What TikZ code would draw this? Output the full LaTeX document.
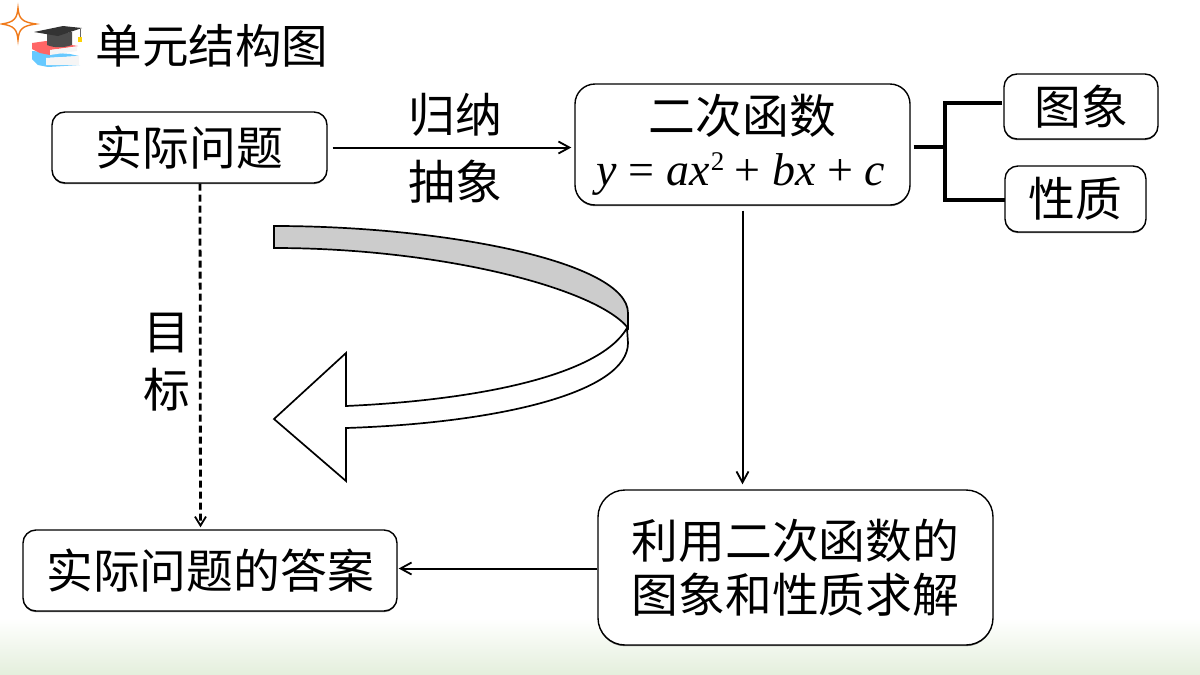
\documentclass[tikz,border=0pt]{standalone}
\usepackage{fontspec}
\setmainfont{Noto Sans CJK SC}
\newfontfamily\mathserif{Liberation Serif}
\usetikzlibrary{arrows.meta,shadows}
\definecolor{bandgray}{HTML}{CCCCCC}
\definecolor{footgreen}{HTML}{E4EFDC}
\definecolor{starorange}{HTML}{F07A1A}
\newcommand\upT[1]{\raisebox{2pt}{#1}}
\tikzset{
  x=1pt,y=-1pt,
  boxbase/.style={draw=black,line width=1.4pt,fill=white,inner sep=0pt,align=center,
    font=\fontsize{46.8}{54}\selectfont,
    drop shadow={shadow xshift=0pt,shadow yshift=-1.2pt,fill=black!55,opacity=1}},
  roundbox/.style={boxbase,rounded corners=13pt},
  bigbox/.style={boxbase,rounded corners=27pt},
  label/.style={inner sep=0pt,font=\fontsize{46.8}{54}\selectfont},
  flow/.style={line width=2pt,-{Straight Barb[length=11pt,width=12pt,line width=1.8pt]}},
  goalflow/.style={line width=2.8pt,dash pattern=on 7pt off 4pt,-{Straight Barb[length=9pt,width=11pt,line width=1.8pt]}},
  bracket/.style={line width=4pt,line cap=butt},
  bandline/.style={draw=black,line width=1.7pt,line join=miter}
}
\begin{document}
\begin{tikzpicture}
\useasboundingbox (0,0) rectangle (1200,675);
\shade[top color=white,bottom color=footgreen] (0,618) rectangle (1200,675);

% title icon
\draw[starorange,line width=1.4pt,fill=white,line join=miter] (18,8) .. controls (19,19) and (22,22) .. (36,24) .. controls (22,26) and (19,29) .. (18,40) .. controls (17,29) and (14,26) .. (2,24) .. controls (14,22) and (17,19) .. (18,8) -- cycle;
\fill[blue!35!cyan!60] (32,51) -- (70,54) -- (79,56) -- (46,58) -- (46,65) -- (80,65) -- (48,67) -- (38,65) -- (32,59) -- cycle;
\fill[white!92!gray] (46,58) -- (79,56) -- (79,65) -- (46,65) -- cycle;
\fill[red!60!white] (32,43) -- (46,41) -- (78,46) -- (50,50) -- (50,55) -- (40,53) -- (32,49) -- cycle;
\fill[white!92!gray] (50,50) -- (77,47) -- (77,51) -- (50,55) -- cycle;
\fill[black!70] (47,34) -- (72,32) -- (72,45) .. controls (64,48) and (54,48) .. (47,45) -- cycle;
\fill[black!80] (34,32) -- (63,26) -- (82,28) -- (58,36) -- cycle;
\draw[black!60,line width=.7pt] (80,29) -- (80,37);
\fill[yellow!70!orange] (78,37) rectangle (82,42);
\node[inner sep=0pt,font=\fontsize{46.5}{54}\selectfont] (title) at (212,46) {单元结构图};

% boxes
\node[roundbox,minimum width=275pt,minimum height=71pt] (prob) at (189.5,147.5) {\upT{实际问题}};
\node[roundbox,minimum width=335pt,minimum height=121pt,rounded corners=20pt] (func) at (742.5,144.5) {};
\node[label] (funcname) at (742.5,116) {二次函数};
\node[inner sep=0pt,font=\fontsize{46}{52}\selectfont\mathserif] (formula) at (741,174) {\textit{y} = \textit{ax}\kern1pt\raisebox{15pt}{\fontsize{27}{30}\selectfont 2}\kern-1pt{} + \textit{bx} + \textit{c}};
\node[roundbox,minimum width=154pt,minimum height=65pt] (graph) at (1081,106.5) {\upT{图象}};
\node[roundbox,minimum width=141pt,minimum height=66pt] (prop) at (1075.5,199) {\upT{性质}};
\node[bigbox,minimum width=395pt,minimum height=155pt] (solve) at (795.5,567.5) {利用二次函数的\\[0pt]图象和性质求解};
\node[roundbox,minimum width=374pt,minimum height=81pt] (answer) at (210,570.5) {\upT{实际问题的答案}};

% labels
\node[label] (ln1) at (455,115) {归纳};
\node[label] (ln2) at (455,182) {抽象};
\node[label] (goal1) at (167,333) {目};
\node[label] (goal2) at (167,390) {标};

% connectors
\draw[flow,shorten <=5pt,shorten >=3pt] (prob.east) -- (prob.east -| func.west);
\draw[flow,shorten <=5pt,shorten >=5pt] (func.south) -- (func.south |- solve.north);
\draw[flow,shorten >=1pt] ([yshift=2pt]answer.east -| solve.west) -- ([yshift=2pt]answer.east);
\draw[goalflow] ([xshift=10.5pt]prob.south) -- ([xshift=-9.5pt,yshift=2pt]answer.north);

% bracket
\coordinate (junction) at (945,147);
\coordinate (toA) at (1002,103);
\coordinate (toB) at (1005,200);
\draw[bracket] ([xshift=3pt]func.east |- junction) -- (junction);
\draw[bracket,line join=miter] (toA) -| (junction) |- (toB);

% curved arrow
\filldraw[bandline,fill=bandgray] (274,226) .. controls (445,226) and (628,262) .. (628,313) -- (628,328) .. controls (596,288) and (440,248) .. (274,248) -- cycle;
\draw[bandline,fill=white] (627,328) -- (628,343) .. controls (628,392) and (500,423) .. (346,428) -- (346,481) -- (274,419) -- (346,353) -- (346,406) .. controls (480,400) and (600,375) .. (627,328) -- cycle;
\end{tikzpicture}
\end{document}
